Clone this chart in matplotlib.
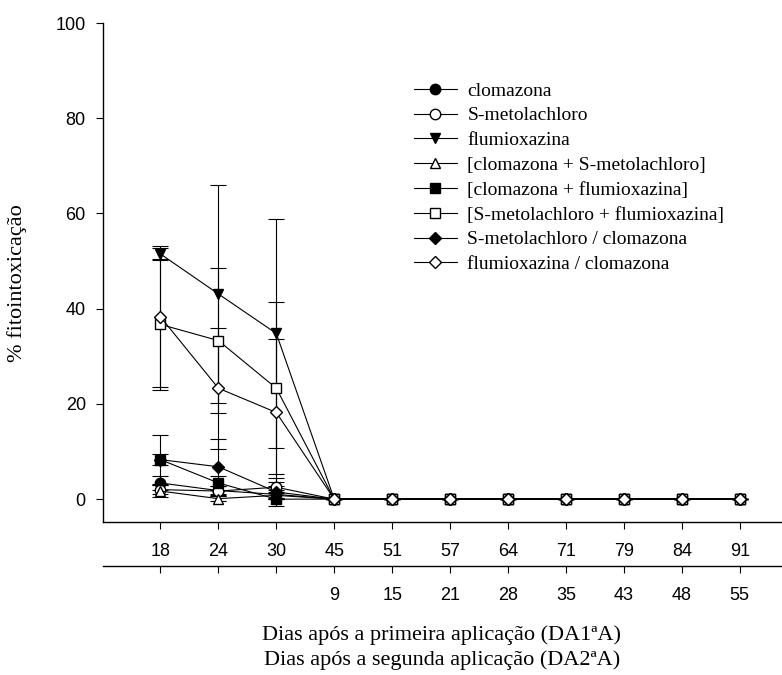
import matplotlib
matplotlib.use("Agg")
import matplotlib.pyplot as plt
import numpy as np

# days after first / second application
dias_1a = ["18", "24", "30", "45", "51", "57", "64", "71", "79", "84", "91"]
dias_2a = ["", "", "", "9", "15", "21", "28", "35", "43", "48", "55"]

zeros = [0, 0, 0, 0, 0, 0, 0, 0]

clomazona = [3.4, 1.8, 1.0] + zeros
clomazona_err = [1.5, 1.0, 1.0] + zeros
smet = [2.0, 1.7, 2.5] + zeros
smet_err = [1.0, 1.0, 1.0] + zeros
flumi = [51.5, 43.1, 34.8] + zeros
flumi_err = [1.2, 22.9, 24.1] + zeros
clom_smet = [1.7, 0.1, 0.8] + zeros
clom_smet_err = [1.2, 0.5, 0.5] + zeros
clom_flumi = [8.3, 3.4, 0.0] + zeros
clom_flumi_err = [1.2, 1.5, 0.0] + zeros
smet_flumi = [36.7, 33.3, 23.3] + zeros
smet_flumi_err = [13.7, 15.2, 18.0] + zeros
smet_clom = [8.3, 6.8, 1.5] + zeros
smet_clom_err = [5.2, 5.8, 3.0] + zeros
flumi_clom = [38.3, 23.3, 18.2] + zeros
flumi_clom_err = [14.8, 12.7, 15.5] + zeros

series = [
    ("clomazona", clomazona, clomazona_err, "o", "black"),
    ("S-metolachloro", smet, smet_err, "o", "white"),
    ("flumioxazina", flumi, flumi_err, "v", "black"),
    ("[clomazona + S-metolachloro]", clom_smet, clom_smet_err, "^", "white"),
    ("[clomazona + flumioxazina]", clom_flumi, clom_flumi_err, "s", "black"),
    ("[S-metolachloro + flumioxazina]", smet_flumi, smet_flumi_err, "s", "white"),
    ("S-metolachloro / clomazona", smet_clom, smet_clom_err, "D", "black"),
    ("flumioxazina / clomazona", flumi_clom, flumi_clom_err, "D", "white"),
]

W, H = 782, 675
fig = plt.figure(figsize=(W / 100, H / 100), dpi=100)
ax = fig.add_axes([102.5 / W, 1 - 522 / H, 1 - 102.5 / W, (522 - 23) / H])

x = np.arange(len(dias_1a))
for name, y, e, m, fc in series:
    ax.errorbar(x, y, yerr=e, fmt="none", ecolor="black", elinewidth=0.8,
                capsize=6, capthick=0.8)
for name, y, e, m, fc in series:
    ms = 7.5 if m != "D" else 6.6
    ax.plot(x, y, color="black", lw=0.8, marker=m, markersize=ms,
            markerfacecolor=fc, markeredgecolor="black", markeredgewidth=1.0,
            label=name)

ax.set_xlim(-1.0, 10.73)
ax.set_ylim(-4.8, 100)
ax.set_yticks([0, 20, 40, 60, 80, 100])
ax.set_xticks(x)
ax.set_xticklabels(dias_1a)
for s in ["top", "right"]:
    ax.spines[s].set_visible(False)
for s in ["left", "bottom"]:
    ax.spines[s].set_linewidth(1.0)
ax.tick_params(axis="both", direction="out", length=5, width=0.8,
               labelsize=13, colors="black")
ax.tick_params(axis="x", pad=10)
ax.tick_params(axis="y", pad=7)
for lab in ax.get_xticklabels() + ax.get_yticklabels():
    lab.set_fontfamily("Liberation Sans")

ax2 = ax.twiny()
ax2.set_xlim(ax.get_xlim())
ax2.xaxis.set_ticks_position("bottom")
ax2.xaxis.set_label_position("bottom")
ax2.spines["bottom"].set_position(("outward", 44 * 0.72))
for s in ["top", "right", "left"]:
    ax2.spines[s].set_visible(False)
ax2.spines["bottom"].set_linewidth(1.0)
ax2.set_xticks(x)
ax2.set_xticklabels(dias_2a)
ax2.tick_params(axis="x", direction="out", length=5, width=0.8, labelsize=13,
                pad=10)
for lab in ax2.get_xticklabels():
    lab.set_fontfamily("Liberation Sans")

leg = ax.legend(loc="upper left", bbox_to_anchor=(414 / W, 1 - 82 / H),
                bbox_transform=fig.transFigure, frameon=False,
                prop={"family": "Liberation Serif", "size": 14},
                handlelength=2.2, handletextpad=0.55, labelspacing=0.37,
                borderpad=0, borderaxespad=0)

fig.text(442 / W, 1 - 635 / H, "Dias após a primeira aplicação (DA1ªA)",
         ha="center", va="center", family="Liberation Serif", fontsize=16)
fig.text(442 / W, 1 - 660 / H, "Dias após a segunda aplicação (DA2ªA)",
         ha="center", va="center", family="Liberation Serif", fontsize=16)
fig.text(17 / W, 1 - 283 / H, "% fitointoxicação", rotation=90,
         ha="center", va="center", family="Liberation Serif", fontsize=16)

fig.savefig("out.png", dpi=100)
